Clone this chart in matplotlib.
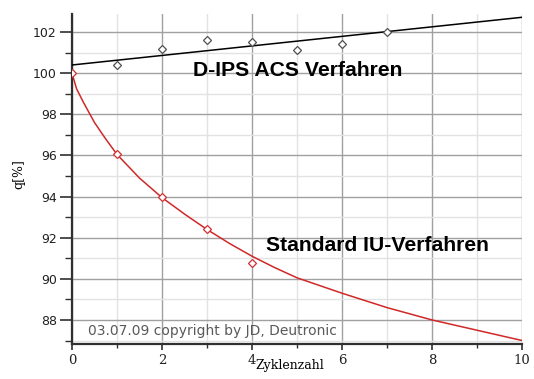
import matplotlib
matplotlib.use("Agg")
import matplotlib.pyplot as plt
from matplotlib.ticker import MultipleLocator

# Data
dips_x = [1, 2, 3, 4, 5, 6, 7]
dips_y = [100.4, 101.17, 101.6, 101.5, 101.12, 101.4, 102.0]
dips_fit_x = [0, 10]
dips_fit_y = [100.4, 102.72]

std_x = [0, 1, 2, 3, 4]
std_y = [100.0, 96.05, 93.98, 92.43, 90.78]
std_curve_x = [0, 0.1, 0.25, 0.5, 0.75, 1, 1.5, 2, 2.5, 3, 3.5, 4, 4.5, 5, 6, 7, 8, 9, 10]
std_curve_y = [100.0, 99.25, 98.6, 97.6, 96.8, 96.05, 94.9, 93.95, 93.15, 92.4, 91.72,
               91.1, 90.55, 90.05, 89.3, 88.6, 88.0, 87.5, 87.0]

x_major = [0, 2, 4, 6, 8, 10]
y_major = [88, 90, 92, 94, 96, 98, 100, 102]

fig = plt.figure(figsize=(5.34, 3.79), dpi=100)
ax = fig.add_axes([72/534, 1-344/379, 450/534, 330/379])

ax.set_xlim(0, 10)
ax.set_ylim(86.83, 102.88)
ax.set_xticks(x_major)
ax.set_yticks(y_major)
ax.xaxis.set_minor_locator(MultipleLocator(1))
ax.yaxis.set_minor_locator(MultipleLocator(1))

ax.grid(which='major', color='#a0a0a0', linewidth=1.0)
ax.grid(which='minor', color='#e2e2e2', linewidth=1.0)
ax.set_axisbelow(True)

for s in ['top', 'right']:
    ax.spines[s].set_visible(False)
for s in ['left', 'bottom']:
    ax.spines[s].set_color('#303030')
    ax.spines[s].set_linewidth(1.6)

ax.tick_params(axis='y', which='major', length=9, width=1.2, color='#303030',
               labelsize=9, labelcolor='#202020', pad=2)
ax.tick_params(axis='y', which='minor', length=5, width=1.0, color='#303030')
ax.tick_params(axis='x', which='major', length=4, width=1.2, color='#303030',
               labelsize=9.5, labelcolor='#202020', pad=3)
ax.tick_params(axis='x', which='minor', length=3, width=1.0, color='#303030')
for lab in ax.get_xticklabels():
    lab.set_fontfamily('DejaVu Serif')

ax.plot(dips_fit_x, dips_fit_y, color='black', linewidth=1.1, zorder=3)
ax.plot(dips_x, dips_y, linestyle='none', marker='D', markersize=3.6,
        markerfacecolor='white', markeredgecolor='#505050', markeredgewidth=0.9, zorder=4)

ax.plot(std_curve_x, std_curve_y, color='#d02828', linewidth=1.1, zorder=3)
ax.plot(std_x, std_y, linestyle='none', marker='D', markersize=3.6,
        markerfacecolor='white', markeredgecolor='#d03030', markeredgewidth=0.9, zorder=4)

ax.text(2.69, 100.12, 'D-IPS ACS Verfahren', fontsize=15.2, fontweight='bold',
        family='Liberation Sans', color='black', ha='left', va='center', zorder=5)
ax.text(4.31, 91.64, 'Standard IU-Verfahren', fontsize=15.2, fontweight='bold',
        family='Liberation Sans', color='black', ha='left', va='center', zorder=5)
ax.text(0.36, 87.44, '03.07.09 copyright by JD, Deutronic', fontsize=10,
        family='DejaVu Sans', color='#5a5a5a', ha='left', va='center', zorder=5)

fig.text(290/534, 1-366/379, 'Zyklenzahl', family='DejaVu Serif', fontsize=9,
         ha='center', va='center')
fig.text(19/534, 1-174/379, 'q[%]', family='DejaVu Serif', fontsize=9,
         ha='center', va='center', rotation=90)

fig.savefig('out.png', dpi=100)
